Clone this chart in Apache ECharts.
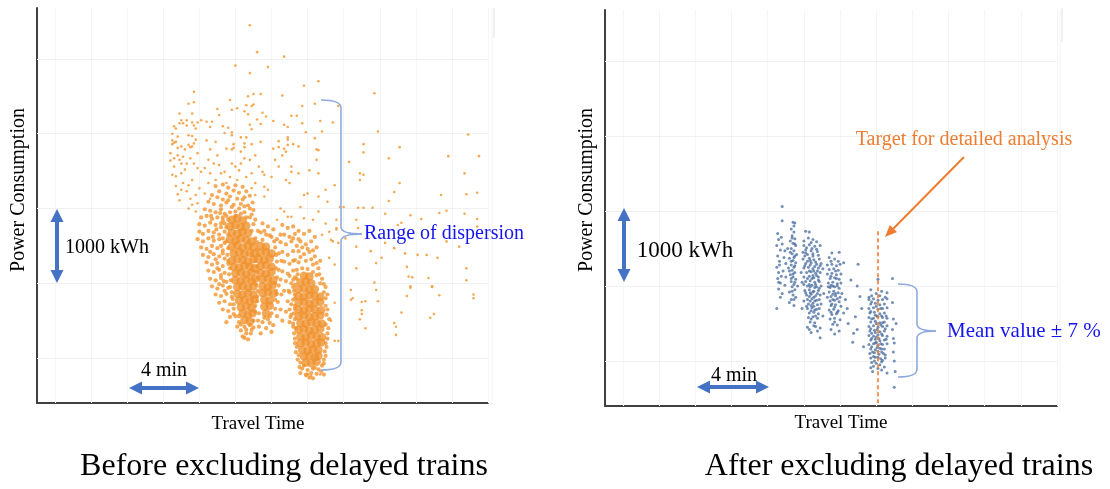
<!DOCTYPE html>
<html>
<head>
<meta charset="utf-8">
<script src="https://cdn.jsdelivr.net/npm/echarts@6/dist/echarts.min.js"></script>
<style>
html,body{margin:0;padding:0;background:#fff;}
#chart{width:1110px;height:489px;}
</style>
</head>
<body>
<div id="chart"></div>
<script>
// ---- axis ranges (travel time in minutes, power consumption in kWh) ----
const X_MIN = -1, X_MAX = 24;
const Y_MIN = 400, Y_MAX = 5680;
const gridXValues = [0, 2, 4, 6, 8, 10, 12, 14, 16, 18, 20, 22, 24];
const gridYValues = [1000, 2000, 3000, 4000, 5000];

// ---- left chart: before excluding delayed trains ----
const leftSparse = [
[10.8,5450],[11.2,5090],[12.7,5030],[10.0,4910],[11.8,4890],[10.8,4810],[13.8,4640],[7.7,4560],[12.6,4510],[10.7,4500],[11.0,4530],[11.4,4530],[9.7,4450],[7.7,4420],[7.4,4400],[10.6,4380],[11.0,4390],[13.7,4370],[14.4,4400],[10.9,4370],[10.1,4340],[9.8,4320],[9.0,4330],[10.5,4300],[6.9,4270],[7.6,4270],[9.1,4250],[10.7,4260],[11.5,4280],[13.1,4240],[13.4,4240],[11.7,4230],[7.3,4180],[7.0,4180],[8.1,4180],[8.4,4160],[8.7,4160],[7.9,4150],[6.9,4140],[7.1,4140],[7.6,4150],[12.1,4170],[11.2,4190],[6.6,4100],[6.7,4070],[7.3,4110],[7.7,4110],[7.8,4070],[8.6,4090],[9.3,4100],[9.6,4080],[10.8,4120],[11.4,4130],[10.9,4060],[12.7,4120],[12.9,4090],[13.7,4140],[9.4,4010],[9.8,4020],[9.8,3980],[7.4,3980],[7.6,3970],[13.9,4020],[10.3,3950],[10.6,3950],[8.4,3910],[8.9,3890],[11.4,3890],[12.4,3900],[12.9,3950],[12.9,3920],[7.8,3920],[6.5,3910],[6.6,3880],[6.7,3890],[7.7,3870],[7.4,3850],[7.0,3830],[6.8,3810],[7.5,3820],[9.9,3860],[10.5,3870],[10.9,3860],[9.5,3800],[9.8,3790],[9.9,3810],[10.5,3820],[12.1,3800],[12.4,3820],[12.7,3800],[13.2,3860],[13.5,3830],[8.6,3790],[6.5,3860],
[14.6,4700],[17.7,4540],[15.7,4370],[14.7,4170],[15.4,4150],[14.8,4030],[17.9,4030],[22.9,3990],[14.4,3940],[17.1,3860],[19.1,3820],[14.5,3790],
[21.8,3700],[23.5,3700],[18.5,3670],[17.1,3750],[16.3,3620],[16.9,3470],[17.1,3450],[16.9,3380],[22.7,3470],[19.1,3340],[22.8,3190],[23.4,3210],[18.8,3220],[18.5,3100],[16.0,3020],[16.8,3010],[17.1,3010],[17.6,3010],[18.3,2930],[19.7,2910],[20.3,2860],[21.3,2940],[21.7,2970],[22.7,2930],[23.4,2860],[23.4,2760],[16.7,2850],[19.2,2810],[19.0,2780],[16.8,2740],[16.7,2660],[16.1,2600],[16.7,2490],[17.5,2430],[18.3,2540],[18.8,2470],[19.4,2400],[20.1,2380],[20.6,2380],[21.2,2340],[21.7,2560],[22.4,2490],[18.1,2340],[17.8,2270],[16.7,2200],[19.5,2220],[19.8,2080],[22.8,2200],[17.7,2010],[20.9,1960],[19.7,1960],[15.6,2850],[15.6,2720],[15.4,2560],[15.7,2540],[15.5,2250],[15.2,2340],[15.8,3020],[21.4,3180],[20.7,2070],[19.6,2090],
[16.4,1910],[16.4,1780],[16.5,1800],[17.0,1750],[17.2,1760],[17.8,1910],[17.9,1760],[17.0,1640],[17.0,1590],[16.9,1520],[17.2,1400],[19.7,1940],[19.5,1830],[19.2,1610],[18.8,1470],[18.9,1420],[18.9,1310],[20.9,1950],[21.3,1840],[21.0,1590],[20.8,1540],[22.8,2040],[23.2,1850],[23.2,1800],[15.5,1740],[15.3,1500],[15.5,1230],[15.7,1230],[13.9,760],[14.2,760],[14.7,780],
[6.4,3740],[6.6,3670],[6.8,3710],[6.9,3650],[7.1,3690],[7.6,3830],[7.5,3670],[7.3,3600],[7.9,3740],[7.7,3600],[7.9,3540],[6.5,3450],[7.0,3470],[6.9,3110],[6.7,3430],[7.1,3340],[7.4,3310],[7.6,3380],[8.1,3490],[8.3,3540],[8.6,3470],[8.5,3650],[8.8,3600],[9.0,3710],[9.1,3580],[9.2,3470],[9.4,3490],[9.5,3340],[9.8,3600],[10.0,3560],[10.2,3510],[10.3,3600],[10.3,3760],[10.5,3670],[10.8,3650],[11.1,3710],[11.3,3560],[11.5,3490],[11.6,3450],[12.0,3420],[12.2,3650],[12.4,3560],[12.6,3710],[12.8,3760],[12.9,3850],[13.1,3490],[12.8,3380],[11.8,3250],[11.6,3290],[11.1,3340],[10.9,3470],[10.6,3420],[10.1,3380],[9.7,3420],[8.9,3380],[8.5,3340],[8.0,3270],[8.3,3200],[8.6,3130],[7.8,3180],[7.5,3130],[7.4,3000],[7.8,2960],[7.9,3070],[10.9,3270],[11.1,3180],[11.6,3160],[12.5,3000],[12.7,2960],[12.3,2850],[12.9,2890],
[14.6,3780],[14.5,3650],[14.1,3510],[14.6,3470],[13.1,3560],[13.5,3470],[13.0,3340],[13.8,3180],[14.0,3200],[14.6,3160],[15.0,3250],[15.5,3310],[15.1,3090],[14.6,2960],[13.6,3020],[13.1,2890],[13.8,2870],[14.3,2850],[15.0,2800],[15.2,2690],[15.6,2740],[14.8,2650],[15.3,2580],
[6.5,4000],[6.8,3960],[7.2,3790],[6.6,3560],[7.0,3600],[7.2,3520],[6.7,3300],[7.3,3230],[6.8,3190],[7.6,3050],[7.0,3250],[6.4,3640]
];
const leftCloud = [
[8.9,3300],[9.3,3320],[9.6,3280],[10.0,3310],[10.4,3290],[9.1,3230],[9.5,3200],[9.9,3240],[10.2,3210],[10.6,3230],[8.7,3180],[9.0,3150],[9.3,3120],[9.7,3160],[10.1,3130],[10.5,3150],[10.8,3170],[8.5,3090],[8.8,3060],[9.2,3040],[9.5,3080],[9.8,3020],[10.3,3060],[10.7,3040],[8.3,2990],[8.6,2970],[8.9,2950],[9.2,2990],[9.4,2930],[10.0,2960],[10.5,2950],[11.0,2980],[8.1,2880],[8.4,2900],[8.7,2860],[9.0,2880],[9.3,2840],[9.5,2900],[10.8,2880],[8.0,2790],[8.3,2770],[8.6,2810],[8.9,2780],[9.2,2750],[9.4,2800],[11.0,2790],[8.0,2690],[8.2,2660],[8.5,2700],[8.8,2680],[9.1,2650],[9.4,2690],[7.9,2590],[8.2,2560],[8.5,2600],[8.8,2570],[9.1,2590],[9.4,2540],[8.1,2480],[8.4,2460],[8.7,2500],[9.0,2470],[9.3,2440],[8.2,2380],[8.5,2350],[8.8,2390],[9.1,2360],[9.4,2330],
[8.4,2280],[8.7,2250],[9.0,2270],[9.3,2230],[9.6,2260],[8.5,2170],[8.8,2150],[9.1,2180],[9.4,2140],[8.6,2060],[8.9,2040],[9.2,2070],[9.5,2020],[8.7,1960],[9.0,1930],[9.3,1970],[9.6,1940],[8.9,1850],[9.2,1830],[9.5,1860],[9.8,1820],[9.1,1740],[9.4,1760],[9.7,1720],[9.3,1650],[9.6,1630],[9.9,1660],
[10.0,1560],[10.2,1480],[10.5,1420],[10.8,1440],[10.3,1370],[10.6,1330],[10.9,1380],[11.0,1500],[10.4,1290],[10.7,1250],[11.1,1620],[10.1,1420],[9.7,1550],[9.5,1480],
[11.1,2600],[11.2,2450],[11.1,2300],[11.2,2150],[11.15,1980],[11.2,1820],[11.1,1700],[10.9,2700],[11.1,2850],
[11.5,2800],[11.8,2760],[12.1,2720],[11.4,2680],[11.7,2650],[12.0,2620],[12.3,2590],[11.5,2580],[12.2,2480],[12.4,2400],[12.3,2290],[12.4,2180],[12.3,2080],[12.4,1970],[12.3,1860],[12.35,1750],[12.2,1660],[12.0,1600],[11.8,1520],[11.5,1480],[12.1,1440],[11.7,1400],[11.4,1330],[12.0,1350],
[12.6,2780],[12.9,2740],[13.2,2760],[12.7,2650],[13.0,2620],[13.3,2660],[12.5,2550],[12.8,2520],[13.1,2560],[13.4,2500],[12.6,2420],[12.9,2380],[13.2,2430],[12.7,2290],[13.0,2260],[13.3,2310],[12.6,2160],[12.9,2130],[13.2,2170],[12.8,2030],[13.1,2000],[13.3,2080],[12.7,1900],[13.0,1880],[13.2,1950],[12.9,1760],[13.1,1720],[13.3,1800],[12.8,1620],[13.1,1580],[13.3,1660],[13.0,1480],[13.2,1420],
[13.5,2700],[13.8,2660],[14.1,2700],[14.4,2620],[13.6,2560],[13.9,2520],[14.2,2560],[14.5,2480],[13.5,2430],[13.8,2390],[14.1,2420],[14.4,2360],[14.7,2300],[13.5,2280],[14.3,2250],[14.6,2200],[13.4,2180],[14.5,2110],[14.8,2060],[13.4,2060],[13.3,1980],[15.0,1950],[14.9,1880],[13.3,1850],[13.3,1700],[15.0,1700],[15.05,1580],[13.3,1520],[13.35,1400],[15.0,1450],[15.1,1330],[13.3,1260],[13.4,1150],[15.0,1200],[14.95,1090],[13.5,1040],[14.9,980],[13.6,940],[14.8,900],[13.7,860],[14.0,840],[14.3,860],[14.6,850],[13.9,780],[14.2,800],[14.5,790],[14.1,740],[13.6,800],[14.9,780],
[9.6,2850],[9.5,2750],[9.6,2650],[9.5,2560],[9.6,2470],[9.55,2380],[9.6,2300],[9.7,2200],[9.65,2120],[9.75,2040],[9.7,1950],[9.8,1880],[9.85,1790],[9.9,1720],[9.3,2880],[9.2,2800],[9.3,2600],[9.2,2500],[9.3,2400],[9.0,2200],[9.2,2110],[9.35,2030],[9.1,1990],[9.4,1900],[8.9,2320],[8.6,2420],[8.75,2620],[8.95,2720],[8.65,2900],[9.15,2940],
[9.7,2950],[10.0,2900],[10.3,2930],[10.6,2880],[10.9,2920],[9.9,3050],[10.2,3000],[10.5,3030],[10.8,3000],[10.4,3120],[9.6,3110],[10.95,3080],
[11.25,2700],[11.2,2550],[11.25,2380],[11.2,2230],[11.25,2070],[11.25,1900],[11.2,1760],[11.3,1600],[11.25,1500],[12.25,2380],[12.25,2200],[12.2,2000],[12.25,1900],[12.2,1780],[12.5,2650],[12.55,2300],[12.5,2050],[12.55,1850],[12.5,1650],[11.6,2700],[11.9,2640],[12.15,2560],[11.9,1560],[11.6,1540],[12.3,1560],[12.6,1500],[11.3,1420],[11.9,1470],
[13.2,2600],[13.5,2590],[13.7,2480],[14.0,2460],[14.3,2440],[13.6,2350],[13.9,2300],[14.2,2320],[14.5,2270],[13.7,2200],[14.0,2190],[14.3,2150],[14.65,2120],[13.45,2120],[13.2,2050],[14.7,2000],[14.9,1990],[13.25,1900],[15.0,1800],[15.1,1850],[13.2,1780],[13.25,1600],[15.1,1650],[15.2,1520],[13.2,1460],[13.25,1330],[15.15,1400],[15.1,1260],[13.3,1200],[13.35,1080],[15.05,1150],[15.0,1030],[13.45,980],[14.9,930],[13.55,880],[14.75,820],[13.8,900],[14.4,870],[14.0,780],[14.3,730],[13.2,2300],[13.0,2100],[12.95,1900],[13.0,1650],[13.05,1550],
[10.3,1450],[10.6,1380],[10.85,1330],[10.5,1270],[10.2,1560],[9.9,1590],[11.0,1410]
];
const leftCore = [
[9.8,2850],[10.1,2870],[10.4,2840],
[9.7,2760],[10.0,2780],[10.3,2750],[10.6,2770],
[9.8,2680],[10.1,2660],[10.4,2690],[10.7,2670],
[9.7,2590],[10.0,2570],[10.3,2600],[10.6,2580],[10.9,2560],
[9.8,2490],[10.1,2510],[10.4,2480],[10.7,2500],[11.0,2490],
[9.9,2400],[10.2,2420],[10.5,2390],[10.8,2410],[11.05,2400],
[9.8,2300],[10.1,2320],[10.4,2310],[10.7,2290],[11.0,2320],
[9.9,2220],[10.2,2210],[10.5,2230],[10.8,2220],[11.05,2200],
[10.0,2130],[10.3,2140],[10.6,2120],[10.9,2140],
[10.0,2040],[10.3,2030],[10.6,2050],[10.9,2030],[11.1,2060],
[10.1,1950],[10.4,1960],[10.7,1940],[11.0,1960],
[10.1,1860],[10.4,1850],[10.7,1870],[11.0,1850],
[10.2,1770],[10.5,1780],[10.8,1760],[11.05,1780],
[10.3,1680],[10.6,1690],[10.9,1670],
[10.4,1600],[10.7,1580],[10.95,1600],
[10.5,1510],[10.8,1490],
[11.4,2500],[11.7,2490],[11.4,2410],[11.7,2420],[12.0,2400],[11.3,2320],[11.6,2310],[11.9,2330],[11.4,2230],[11.7,2240],[12.0,2220],[11.4,2140],[11.7,2130],[12.0,2150],[11.5,2050],[11.8,2060],[12.1,2040],[11.5,1960],[11.8,1950],[12.05,1970],[11.5,1870],[11.8,1880],[12.1,1860],[11.6,1780],[11.9,1770],[11.6,1690],[11.9,1700],[11.7,1600],
[13.8,2100],[14.1,2090],
[13.6,2010],[13.9,2020],[14.2,2000],
[13.5,1920],[13.8,1930],[14.1,1910],[14.4,1920],
[13.5,1830],[13.8,1820],[14.1,1840],[14.4,1830],[14.7,1820],
[13.5,1740],[13.8,1750],[14.1,1730],[14.4,1740],[14.7,1750],
[13.5,1650],[13.8,1640],[14.1,1660],[14.4,1650],[14.75,1640],
[13.5,1560],[13.8,1570],[14.1,1550],[14.4,1560],[14.7,1570],
[13.6,1470],[13.9,1460],[14.2,1480],[14.5,1470],[14.8,1460],
[13.5,1380],[13.8,1390],[14.1,1370],[14.4,1380],[14.7,1390],
[13.6,1290],[13.9,1280],[14.2,1300],[14.5,1290],[14.8,1280],
[13.6,1200],[13.9,1210],[14.2,1190],[14.5,1200],[14.75,1210],
[13.7,1110],[14.0,1100],[14.3,1120],[14.6,1110],
[13.8,1020],[14.1,1030],[14.4,1010],[14.6,1030],
[13.9,940],[14.2,930],[14.5,950]
];

// ---- right chart: after excluding delayed trains ----
const rightPoints = [
[8.8,3060],[8.8,2870],[9.4,2850],[9.5,2840],[9.45,2800],
[8.55,2700],[8.6,2620],[8.5,2540],[8.7,2480],[8.55,2400],[8.65,2330],[8.5,2250],[8.6,2180],[8.55,2100],[8.7,2040],[8.6,1960],[8.5,1700],[8.8,2560],[8.9,2380],[8.85,2200],[8.95,2010],[8.8,1900],[9.0,2300],[8.75,2650],[8.95,2470],
[9.3,2760],[9.45,2720],[9.35,2670],[9.5,2630],[9.25,2600],[9.4,2570],[9.55,2540],[9.3,2500],[9.45,2470],[9.35,2430],[9.5,2400],[9.2,2370],[9.4,2340],[9.55,2310],[9.3,2280],[9.45,2250],[9.35,2210],[9.5,2180],[9.25,2150],[9.4,2120],[9.55,2090],[9.3,2060],[9.45,2020],[9.35,1990],[9.5,1950],[9.2,1920],[9.4,1880],[9.55,1850],[9.3,1820],[9.65,2000],[9.15,2240],[9.6,2420],[9.1,2500],[9.0,2120],[9.2,1780],[9.45,1740],
[10.1,2730],[10.3,2720],[10.25,2640],[10.5,2620],[10.0,2600],[10.7,2590],[10.4,2580],
[10.0,2540],[10.3,2550],[10.6,2530],[10.9,2540],
[10.1,2480],[10.4,2470],[10.7,2490],[9.95,2450],
[10.2,2420],[10.5,2430],[10.8,2410],[10.05,2400],
[9.95,2360],[10.3,2370],[10.55,2350],[10.85,2360],
[10.1,2300],[10.4,2310],[10.7,2290],[10.95,2300],
[10.0,2240],[10.25,2250],[10.5,2230],[10.8,2240],
[10.15,2180],[10.4,2190],[10.65,2170],[10.9,2180],
[10.0,2120],[10.3,2130],[10.55,2110],[10.8,2120],
[10.1,2060],[10.35,2070],[10.6,2050],[10.85,2060],
[10.2,2000],[10.45,2010],[10.7,1990],[10.95,2000],
[10.05,1940],[10.3,1950],[10.55,1930],[10.8,1940],
[10.15,1880],[10.4,1890],[10.65,1870],[10.9,1880],
[10.2,1820],[10.45,1830],[10.7,1810],[10.0,1800],
[10.25,1760],[10.5,1770],[10.75,1750],[10.95,1760],
[10.2,1700],[10.45,1710],[10.7,1690],
[10.3,1640],[10.55,1650],[10.8,1630],
[10.25,1580],[10.5,1590],[10.75,1570],
[10.35,1520],[10.6,1510],
[10.2,1450],[10.65,1460],[10.9,1440],
[10.4,1380],[10.75,1400],[10.9,1310],
[10.35,2280],[10.55,2200],[10.45,2100],[10.6,1980],[10.35,1910],[10.55,1850],[10.4,1740],[10.6,1680],[10.5,2400],[10.2,2330],[10.7,2140],[10.3,2020],
[9.85,2180],[9.9,2050],[11.05,2230],[11.1,1900],[9.9,1700],[11.05,1600],
[11.55,2440],[11.95,2450],[11.4,2380],[11.7,2360],[11.9,2330],
[11.3,2280],[11.55,2290],[11.8,2270],[12.0,2290],
[11.4,2220],[11.65,2230],[11.9,2210],
[11.3,2160],[11.55,2170],[11.8,2150],[12.05,2160],
[11.45,2100],[11.7,2110],[11.95,2090],
[11.35,2040],[11.6,2050],[11.85,2030],[12.05,2040],
[11.45,1980],[11.7,1990],[11.95,1970],
[11.4,1920],[11.65,1930],[11.9,1910],
[11.5,1860],[11.75,1870],[12.0,1850],[11.3,1850],
[11.45,1800],[11.7,1810],[11.95,1790],
[11.5,1740],[11.75,1750],[12.05,1730],
[11.4,1680],[11.65,1690],[11.9,1670],
[11.55,1620],[11.8,1630],
[11.45,1560],[11.7,1570],[12.0,1550],
[11.6,1490],[11.85,1480],
[11.5,1420],[11.95,1400],[11.7,1360],
[11.6,2000],[11.75,1900],[11.55,1760],[11.8,2100],
[12.2,2310],[13.0,2290],[12.3,1820],[12.2,1640],[12.45,1500],[12.75,1370],[12.95,2000],[13.1,1860],[12.85,1590],[12.95,1420],[13.3,1190],[12.6,2080],[12.4,1700],[13.2,1700],[12.7,1250],
[14.1,2090],[14.9,2100],[13.7,1950],[14.0,1900],[14.3,1930],[14.6,1910],[13.6,1850],
[13.6,1820],[13.85,1830],[14.1,1810],[14.35,1820],[14.6,1830],
[13.7,1760],[13.95,1770],[14.2,1750],[14.45,1760],[14.9,1780],
[13.6,1700],[13.85,1710],[14.1,1690],[14.35,1700],[14.6,1710],
[13.65,1640],[13.9,1650],[14.2,1630],[14.45,1640],
[13.6,1580],[13.85,1570],[14.1,1590],[14.35,1580],[14.6,1570],[14.95,1560],
[13.7,1520],[13.95,1530],[14.2,1510],[14.45,1520],
[13.6,1460],[13.85,1470],[14.1,1450],[14.35,1460],[14.6,1470],
[13.65,1400],[13.9,1410],[14.2,1390],[14.45,1400],[14.9,1420],
[13.6,1340],[13.85,1330],[14.1,1350],[14.35,1340],[14.6,1330],
[13.7,1280],[13.95,1290],[14.2,1270],[14.45,1280],
[13.6,1220],[13.85,1230],[14.1,1210],[14.35,1220],[14.6,1230],[15.0,1240],
[13.7,1160],[13.95,1150],[14.2,1170],[14.45,1160],
[13.65,1100],[13.9,1110],[14.15,1090],[14.4,1100],[14.95,1120],
[13.7,1040],[13.95,1050],[14.25,1030],[14.5,1040],
[13.75,980],[14.0,970],[14.3,990],[15.0,1000],
[13.7,910],[14.1,900],[14.45,920],
[13.8,860],[14.6,840],[15.05,860],[15.0,650],
[14.05,1600],[14.25,1480],[13.95,1380],[14.15,1300],[14.3,1120],[14.0,1250],[15.1,1500],[14.95,1300],
[9.35,2640],[9.5,2560],[9.25,2450],[9.45,2380],[9.3,2330],[9.5,2270],[9.2,2200],[9.4,2160],[9.3,2100],[9.5,2050],[9.35,1930],[9.45,1820],[8.65,2280],[8.75,2130],[8.6,2050],[8.7,1850],
[10.15,2510],[10.45,2500],[10.75,2460],[10.1,2440],[10.35,2340],[10.65,2320],[10.9,2270],[10.05,2270],[10.3,2200],[10.6,2260],[10.75,2200],[10.2,2100],[10.5,2140],[10.8,2080],[10.0,2020],[10.35,1990],[10.65,2020],[10.85,1970],[10.1,1910],[10.5,1920],[10.75,1900],[10.3,1860],[10.6,1800],[10.85,1820],[10.35,1800],[10.15,1730],[10.55,1730],[10.85,1700],[10.4,1670],[10.65,1600],[10.4,1560],[10.55,1470],[10.3,1420],
[11.5,2330],[11.75,2200],[11.5,2130],[11.85,2000],[11.5,2010],[11.6,1890],[11.85,1830],[11.6,1820],[11.7,1720],[11.85,1650],[11.5,1650],[11.7,1520],[11.35,1990],[12.1,1900],
[13.75,1870],[14.2,1870],[14.5,1850],[13.75,1790],[14.0,1730],[14.25,1700],[13.7,1660],[13.95,1610],[14.3,1600],[14.55,1600],[13.75,1560],[14.0,1500],[14.35,1510],[13.7,1430],[14.05,1420],[14.5,1430],[13.75,1370],[14.3,1360],[14.0,1320],[13.75,1300],[14.55,1290],[13.95,1240],[14.25,1230],[13.75,1190],[14.05,1180],[14.3,1160],[13.8,1120],[14.1,1130],[14.5,1080],[13.85,1060],[14.1,1050],[14.35,1010],[13.9,1000],[14.2,950],[13.85,930],[14.3,880]
];
// target line for detailed analysis (travel time, kWh span)
const targetX = 14.07;
const targetSpan = [2730, 440];

// ---- texts ----
const yTitle = 'Power Consumption';
const xTitle = 'Travel Time';
const scaleY = '1000 kWh';
const scaleX = '4 min';
const leftNote = 'Range of dispersion';
const rightNote = 'Mean value \u00b1 7 %';
const targetNote = 'Target for detailed analysis';
const captions = ['Before excluding delayed trains', 'After excluding delayed trains'];

const SERIF = '"Liberation Serif", "DejaVu Serif", serif';
const BLUE_ARROW = '#4472C4';
const BRACE = '#8FAADC';
const ORANGE = '#ED7D31';
const TEXT_BLUE = '#1515F0';

const chart = echarts.init(document.getElementById('chart'), null, {renderer: 'canvas'});

function axisX(i) {
  return {gridIndex: i, type: 'value', min: X_MIN, max: X_MAX,
    axisLine: {show: true, onZero: false, lineStyle: {color: '#404040', width: 2}},
    axisTick: {show: false}, axisLabel: {show: false}, splitLine: {show: false}};
}
function axisY(i) {
  return {gridIndex: i, type: 'value', min: Y_MIN, max: Y_MAX,
    axisLine: {show: true, onZero: false, lineStyle: {color: '#404040', width: 2}},
    axisTick: {show: false}, axisLabel: {show: false}, splitLine: {show: false}};
}
function gridSeries(i) {
  return {type: 'scatter', xAxisIndex: i, yAxisIndex: i, data: [], silent: true, z: 1,
    markLine: {silent: true, z: 1, symbol: ['none', 'none'], animation: false,
      label: {show: false}, lineStyle: {color: '#f1f1f1', width: 1, type: 'solid'},
      emphasis: {disabled: true},
      data: gridXValues.map(v => ({xAxis: v, lineStyle: {color: '#f5f5f5'}}))
        .concat(gridYValues.map(v => ({yAxis: v})))}};
}

function txt(text, x, y, size, color, align, rot) {
  const el = {type: 'text', x: x, y: y, silent: true, z: 100,
    style: {text: text, font: size + 'px ' + SERIF, fill: color, align: align || 'center', verticalAlign: 'middle'}};
  if (rot) el.rotation = rot;
  return el;
}
function seg(x1, y1, x2, y2, color, w, z) {
  return {type: 'line', silent: true, z: z == null ? 100 : z, shape: {x1: x1, y1: y1, x2: x2, y2: y2}, style: {stroke: color, lineWidth: w}};
}
function tri(pts, color) {
  return {type: 'polygon', silent: true, z: 100, shape: {points: pts}, style: {fill: color}};
}
function qcurve(x1, y1, cx, cy, x2, y2) {
  return {type: 'bezierCurve', silent: true, z: 100,
    shape: {x1: x1, y1: y1, cpx1: cx, cpy1: cy, x2: x2, y2: y2},
    style: {stroke: BRACE, lineWidth: 1.6, fill: null}};
}
function vArrow(x, y1, y2) {
  return [seg(x, y1 + 10, x, y2 - 10, BLUE_ARROW, 4),
    tri([[x, y1], [x - 6.5, y1 + 13], [x + 6.5, y1 + 13]], BLUE_ARROW),
    tri([[x, y2], [x - 6.5, y2 - 13], [x + 6.5, y2 - 13]], BLUE_ARROW)];
}
function hArrow(y, x1, x2) {
  return [seg(x1 + 10, y, x2 - 10, y, BLUE_ARROW, 4),
    tri([[x1, y], [x1 + 13, y - 6.5], [x1 + 13, y + 6.5]], BLUE_ARROW),
    tri([[x2, y], [x2 - 13, y - 6.5], [x2 - 13, y + 6.5]], BLUE_ARROW)];
}
function brace(xh, xs, xt, yTop, yMid, yBot) {
  return [
    qcurve(xh, yTop, xs, yTop, xs, yTop + 8),
    seg(xs, yTop + 8, xs, yMid - 7, BRACE, 1.6),
    qcurve(xs, yMid - 7, xs, yMid, xt, yMid),
    qcurve(xt, yMid, xs, yMid, xs, yMid + 7),
    seg(xs, yMid + 7, xs, yBot - 8, BRACE, 1.6),
    qcurve(xs, yBot - 8, xs, yBot, xh, yBot)
  ];
}

const graphics = [].concat(
  // left chart annotations
  vArrow(57, 209, 283),
  hArrow(388, 129, 199),
  [txt(scaleY, 107, 248, 20, '#000'),
   txt(scaleX, 164, 371, 20, '#000'),
   txt(yTitle, 19, 190, 20, '#000', 'center', Math.PI / 2),
   txt(xTitle, 258, 424, 19, '#000'),
   txt(leftNote, 364, 234, 20, TEXT_BLUE, 'left'),
   seg(492, 8, 492, 407, '#f3f3f3', 1, 0),
   seg(494, 8, 494, 38, '#e2e2e2', 1, 0)],
  brace(321, 341, 362, 100, 234, 370),
  // right chart annotations
  vArrow(624, 208, 282),
  hArrow(387, 697, 769),
  [txt(scaleY, 685, 251, 23, '#000'),
   txt(scaleX, 734, 376, 20, '#000'),
   txt(yTitle, 587, 190, 20, '#000', 'center', Math.PI / 2),
   txt(xTitle, 841, 423, 19, '#000'),
   txt(targetNote, 964, 140, 20, ORANGE),
   seg(964, 157, 891, 231, ORANGE, 2),
   tri([[885, 237], [897, 232], [889.8, 225]], ORANGE),
   txt(rightNote, 947, 331, 21, TEXT_BLUE, 'left'),
   seg(1060, 10, 1060, 413, '#f3f3f3', 1, 0),
   seg(1062, 8, 1062, 42, '#e2e2e2', 1, 0)],
  brace(898, 917, 936, 284, 331, 377),
  // captions
  [txt(captions[0], 284, 467, 32, '#000'),
   txt(captions[1], 899, 467, 32, '#000')]
);

chart.setOption({
  animation: false,
  backgroundColor: '#ffffff',
  grid: [
    {left: 37, top: 8, width: 451, height: 395},
    {left: 605, top: 10, width: 452, height: 396}
  ],
  xAxis: [axisX(0), axisX(1)],
  yAxis: [axisY(0), axisY(1)],
  series: [
    gridSeries(0),
    gridSeries(1),
    {name: 'before-sparse', type: 'scatter', xAxisIndex: 0, yAxisIndex: 0, data: leftSparse, z: 3,
      symbolSize: 2.6, itemStyle: {color: '#F39A36', opacity: 0.85}, silent: true},
    {name: 'before-cloud', type: 'scatter', xAxisIndex: 0, yAxisIndex: 0, data: leftCloud, z: 3,
      symbolSize: 4.2, itemStyle: {color: '#F2952F', opacity: 0.8}, silent: true},
    {name: 'before-core', type: 'scatter', xAxisIndex: 0, yAxisIndex: 0, data: leftCore, z: 3,
      symbolSize: 8.5, itemStyle: {color: '#F0912B', opacity: 0.78}, silent: true},
    {name: 'after', type: 'scatter', xAxisIndex: 1, yAxisIndex: 1, data: rightPoints, z: 3,
      symbolSize: 3, itemStyle: {color: '#44699C', opacity: 0.75}, silent: true,
      markLine: {silent: true, symbol: ['none', 'none'], animation: false, label: {show: false},
        lineStyle: {color: ORANGE, width: 1.6, type: [4, 3]},
        data: [[{coord: [targetX, targetSpan[0]]}, {coord: [targetX, targetSpan[1]]}]]}}
  ],
  graphic: graphics
});
</script>
</body>
</html>
